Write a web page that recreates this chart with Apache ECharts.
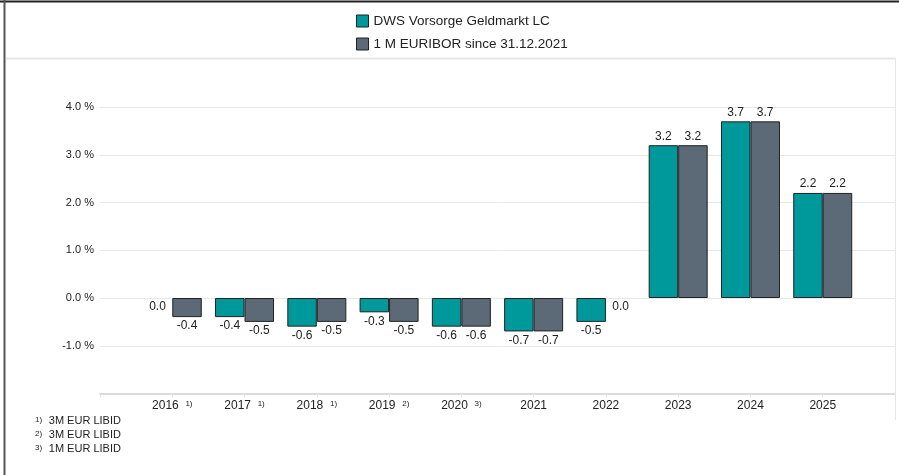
<!DOCTYPE html>
<html>
<head>
<meta charset="utf-8">
<script src="https://cdn.jsdelivr.net/npm/echarts@6/dist/echarts.min.js"></script>
<style>
  html, body { margin: 0; padding: 0; background: #fff; }
  #chartDiv { width: 899px; height: 475px; }
</style>
</head>
<body>
<div id="chartDiv"></div>
<script>
var years = ['', '2016', '2017', '2018', '2019', '2020', '2021', '2022', '2023', '2024', '2025', ''];
var notes = ['', '1)', '1)', '1)', '2)', '3)', '', '', '', '', '', ''];
var fundValues = [null, 0.0, -0.4, -0.6, -0.3, -0.6, -0.7, -0.5, 3.2, 3.7, 2.2, null];
var benchValues = [null, -0.4, -0.5, -0.5, -0.5, -0.6, -0.7, 0.0, 3.2, 3.7, 2.2, null];
var footnotes = ['3M EUR LIBID', '3M EUR LIBID', '1M EUR LIBID'];
var seriesNames = ['DWS Vorsorge Geldmarkt LC', '1 M EURIBOR since 31.12.2021'];

var myChart = echarts.init(document.getElementById('chartDiv'));
var font = 'Liberation Sans, Arial, sans-serif';

function toData(values) {
    return values.map(function (v) {
        if (v === null) return null;
        var item = {
            value: v,
            label: {position: v > 0 ? 'top' : 'bottom'}
        };
        if (v === 0) item.itemStyle = {borderWidth: 0};
        return item;
    });
}

function barSeries(name, values, color) {
    return {
        name: name,
        type: 'bar',
        data: toData(values),
        barWidth: 29.5,
        barGap: 0,
        itemStyle: {color: color, borderColor: '#222', borderWidth: 1},
        label: {
            show: true,
            fontFamily: font,
            fontSize: 12,
            color: '#222',
            distance: 3,
            formatter: function (p) { return p.value.toFixed(1); }
        }
    };
}

var graphics = [
    {type: 'line', shape: {x1: 0, y1: 1.5, x2: 899, y2: 1.5}, style: {stroke: '#222', lineWidth: 2}},
    {type: 'line', shape: {x1: 4.5, y1: 0, x2: 4.5, y2: 475}, style: {stroke: '#555', lineWidth: 2}},
    {type: 'line', shape: {x1: 6, y1: 58.5, x2: 895, y2: 58.5}, style: {stroke: '#e6e6e6', lineWidth: 2}},
    {type: 'line', shape: {x1: 895.5, y1: 58, x2: 895.5, y2: 420}, style: {stroke: '#e6e6e6', lineWidth: 1}}
];
footnotes.forEach(function (t, i) {
    graphics.push({
        type: 'text', left: 35, top: 415 + i * 14,
        style: {
            text: '{s|' + (i + 1) + ')}  {t|' + t + '}',
            rich: {
                s: {fontSize: 8, fontFamily: font, fill: '#222', padding: [0, 0, 3, 0]},
                t: {fontSize: 11, fontFamily: font, fill: '#222'}
            }
        }
    });
});

myChart.setOption({
    animation: false,
    textStyle: {fontFamily: font},
    legend: {
        orient: 'vertical',
        left: 351,
        top: 9,
        icon: 'rect',
        itemWidth: 12,
        itemHeight: 12,
        itemGap: 9,
        itemStyle: {borderColor: '#222', borderWidth: 1},
        textStyle: {fontSize: 13.5, color: '#222', fontFamily: font},
        data: seriesNames
    },
    grid: {left: 100, right: 4, top: 107, bottom: 81.5},
    xAxis: {
        type: 'category',
        data: years,
        boundaryGap: false,
        axisLine: {onZero: false, lineStyle: {color: '#dcdcdc', width: 2}},
        axisTick: {show: true, interval: 0, length: 4, lineStyle: {color: '#e3e3e3'}},
        axisLabel: {
            interval: 0,
            margin: 6,
            formatter: function (v, i) {
                if (!v) return '';
                return notes[i] ? '{y|' + v + '}  {s|' + notes[i] + '}' : '{y|' + v + '}';
            },
            rich: {
                y: {fontSize: 12, color: '#222', fontFamily: font},
                s: {fontSize: 8, color: '#222', fontFamily: font, padding: [0, 0, 4, 0]}
            }
        }
    },
    yAxis: {
        type: 'value',
        min: -2,
        max: 4,
        interval: 1,
        axisLine: {show: false},
        axisTick: {show: false},
        splitLine: {lineStyle: {color: '#e8e8e8', width: 1}},
        axisLabel: {
            margin: 6,
            fontSize: 11,
            color: '#222',
            fontFamily: font,
            formatter: function (v) { return v === -2 ? '' : v.toFixed(1) + ' %'; }
        }
    },
    series: [
        barSeries(seriesNames[0], fundValues, '#00999b'),
        barSeries(seriesNames[1], benchValues, '#5b6a76')
    ],
    graphic: graphics
});
window.onresize = myChart.resize;
</script>
</body>
</html>
